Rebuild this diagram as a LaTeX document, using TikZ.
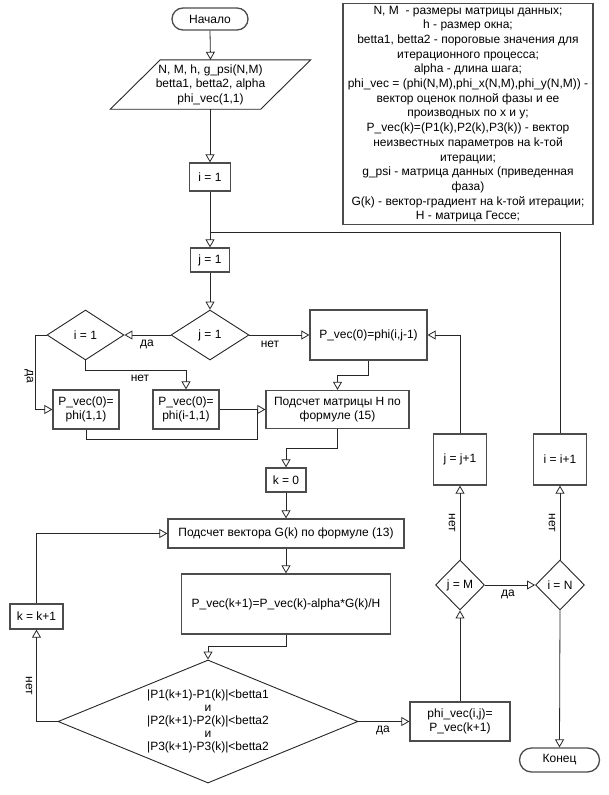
\documentclass[tikz,border=0pt]{standalone}
\usepackage{fontspec}
\setmainfont{Liberation Sans}
\usetikzlibrary{arrows.meta,shapes.geometric,calc}
\newcommand\legln[1]{\smash{#1}}
\begin{document}
\begin{tikzpicture}[x=1pt,y=-1pt,
  font={\fontsize{12}{14.5}\selectfont},
  box/.style={draw=black!70, line width=1.3pt, rectangle, align=center, inner sep=1pt},
  term/.style={box, rounded corners=11pt},
  dec/.style={draw=black!85, line width=0.9pt, diamond, aspect=1, inner sep=0pt, align=center},
  shapeline/.style={draw=black!85, line width=0.9pt},
  conn/.style={draw=black!85, line width=0.8pt},
  arr/.style={conn, -{Triangle[open, length=8pt, width=9pt, line width=0.8pt]}},
  lbl/.style={inner sep=0pt}
]
\useasboundingbox (0,0) rectangle (608,795);
\fill[white] (0,0) rectangle (608,795);

% legend
\node[box, minimum width=250pt, minimum height=212pt, inner sep=0pt] (legend) at (468,114)
 {\fontsize{12}{14.7}\selectfont\renewcommand{\arraystretch}{1}%
  \begin{tabular}{@{}c@{}}
  \legln{N, M \ - размеры матрицы данных;}\\
  \legln{h - размер окна;}\\
  \legln{betta1, betta2 - пороговые значения для}\\
  \legln{итерационного процесса;}\\
  \legln{alpha - длина шага;}\\
  \legln{phi\_vec = (phi(N,M),phi\_x(N,M),phi\_y(N,M)) -}\\
  \legln{вектор оценок полной фазы и ее}\\
  \legln{производных по x и y;}\\
  \legln{P\_vec(k)=(P1(k),P2(k),P3(k)) - вектор}\\
  \legln{неизвестных параметров на k-той}\\
  \legln{итерации;}\\
  \legln{g\_psi - матрица данных (приведенная}\\
  \legln{фаза)}\\
  \legln{G(k) - вектор-градиент на k-той итерации;}\\
  \legln{H - матрица Гессе;}
  \end{tabular}};

% nodes
\node[term, minimum width=76pt, minimum height=22pt] (start) at (210,19) {Начало};
\node[inner sep=0pt, minimum width=150pt, minimum height=49pt, align=center] (inp) at (210.5,84.5)
 {N, M, h, g\_psi(N,M)\\betta1, betta2, alpha\\phi\_vec(1,1)};
\draw[shapeline] ([xshift=25pt]inp.north west) -- ([xshift=25pt]inp.north east)
  -- ([xshift=-25pt]inp.south east) -- ([xshift=-25pt]inp.south west) -- cycle;

\node[box, minimum width=41pt, minimum height=28pt] (i1) at (210,177) {i = 1};
\coordinate (jn) at (210,232);
\node[box, minimum width=39pt, minimum height=24pt] (j1box) at (210,260) {j = 1};

\node[dec, minimum width=78pt, minimum height=50pt] (jd) at (210,335) {j = 1};
\node[dec, minimum width=77pt, minimum height=50pt] (id) at (85.5,335) {i = 1};
\node[box, minimum width=117pt, minimum height=50pt] (pij) at (368.5,335) {P\_vec(0)=phi(i,j-1)};

\node[box, minimum width=66pt, minimum height=39pt] (p11) at (86,409.5) {P\_vec(0)=\\phi(1,1)};
\node[box, minimum width=66pt, minimum height=39pt] (pi1) at (186,409.5) {P\_vec(0)=\\phi(i-1,1)};
\node[box, minimum width=143pt, minimum height=38pt] (hc) at (337.5,409.5) {Подсчет матрицы H по\\формуле (15)};
\coordinate (jx) at (257,409.5);

\node[box, minimum width=40pt, minimum height=24pt] (k0) at (286,480) {k = 0};
\node[box, minimum width=236pt, minimum height=29pt] (gk) at (286,533.5) {Подсчет вектора G(k) по формуле (13)};
\node[box, minimum width=209pt, minimum height=60pt] (pk) at (286,604) {P\_vec(k+1)=P\_vec(k)-alpha*G(k)/H};
\node[box, minimum width=53pt, minimum height=25pt] (kk) at (36.5,616.5) {k = k+1};

\node[dec, aspect=2.44, minimum width=300pt, minimum height=123pt] (bd) at (208,721.5)
 {\fontsize{12}{13}\selectfont\renewcommand{\arraystretch}{1}%
  \begin{tabular}{@{}c@{}}
  \legln{|P1(k+1)-P1(k)|<betta1}\\ \legln{и}\\ \legln{|P2(k+1)-P2(k)|<betta2}\\ \legln{и}\\ \legln{|P3(k+1)-P3(k)|<betta2}
  \end{tabular}};
\node[box, minimum width=100pt, minimum height=39pt] (phv) at (460,721.5) {phi\_vec(i,j)=\\P\_vec(k+1)};

\node[dec, minimum width=49pt, minimum height=50pt] (jm) at (460,585) {j = M};
\node[dec, minimum width=49pt, minimum height=50pt] (in) at (560,585) {i = N};
\node[box, minimum width=53pt, minimum height=51pt] (jp1) at (460,459.5) {j = j+1};
\node[box, minimum width=53pt, minimum height=51pt] (ip1) at (560,459.5) {i = i+1};
\node[term, minimum width=80pt, minimum height=24pt, rounded corners=12pt] (end) at (559.5,760) {Конец};

% connectors
\draw[arr] (start.south) -- (inp.north);
\draw[arr] (inp.south -| i1.north) -- (i1.north);
\draw[arr] (i1.south) -- (j1box.north);
\draw[conn] (ip1.north) |- (jn);
\draw[arr] (j1box.south) -- (jd.north);
\draw[arr] (jd.west) -- (id.east);
\node[lbl] (l1) at (147,344) {да};
\draw[arr] (jd.east) -- (pij.west);
\node[lbl] (l2) at (270,344) {нет};
\draw[arr] (id.west) -- ++(-11,0) |- (p11.west);
\node[lbl, rotate=-90] (l3) at (29,376) {да};
\draw[arr] (id.south) -- ++(0,10) -| (pi1.north);
\node[lbl] (l4) at (140,378) {нет};
\draw[arr] (pi1.east) -- (hc.west);
\draw[conn] (p11.south) -- ++(0,10) -| (jx);
\draw[arr] (pij.south) -- ++(0,15) -| (hc.north);
\draw[arr] (hc.south) -- ++(0,19.5) -| (k0.north);
\draw[arr] (k0.south) -- (gk.north);
\draw[arr] (gk.south) -- (pk.north);
\draw[arr] (pk.south) -- ++(0,12) -| (bd.north);
\draw[arr] (bd.east) -- (phv.west);
\node[lbl] (l5) at (383,730) {да};
\draw[arr] (bd.west) -| (kk.south);
\node[lbl, rotate=-90] (l6) at (29,686) {нет};
\draw[arr] (kk.north) |- (gk.west);
\draw[arr] (phv.north) -- (jm.south);
\draw[arr] (jm.north) -- (jp1.south);
\node[lbl, rotate=-90] (l7) at (452,523) {нет};
\draw[arr] (jm.east) -- (in.west);
\node[lbl] (l8) at (508,594) {да};
\draw[arr] (in.north) -- (ip1.south);
\node[lbl, rotate=-90] (l9) at (552,523) {нет};
\draw[arr] (in.south) -- (end.north);
\draw[arr] (jp1.north) |- (pij.east);
\end{tikzpicture}
\end{document}
